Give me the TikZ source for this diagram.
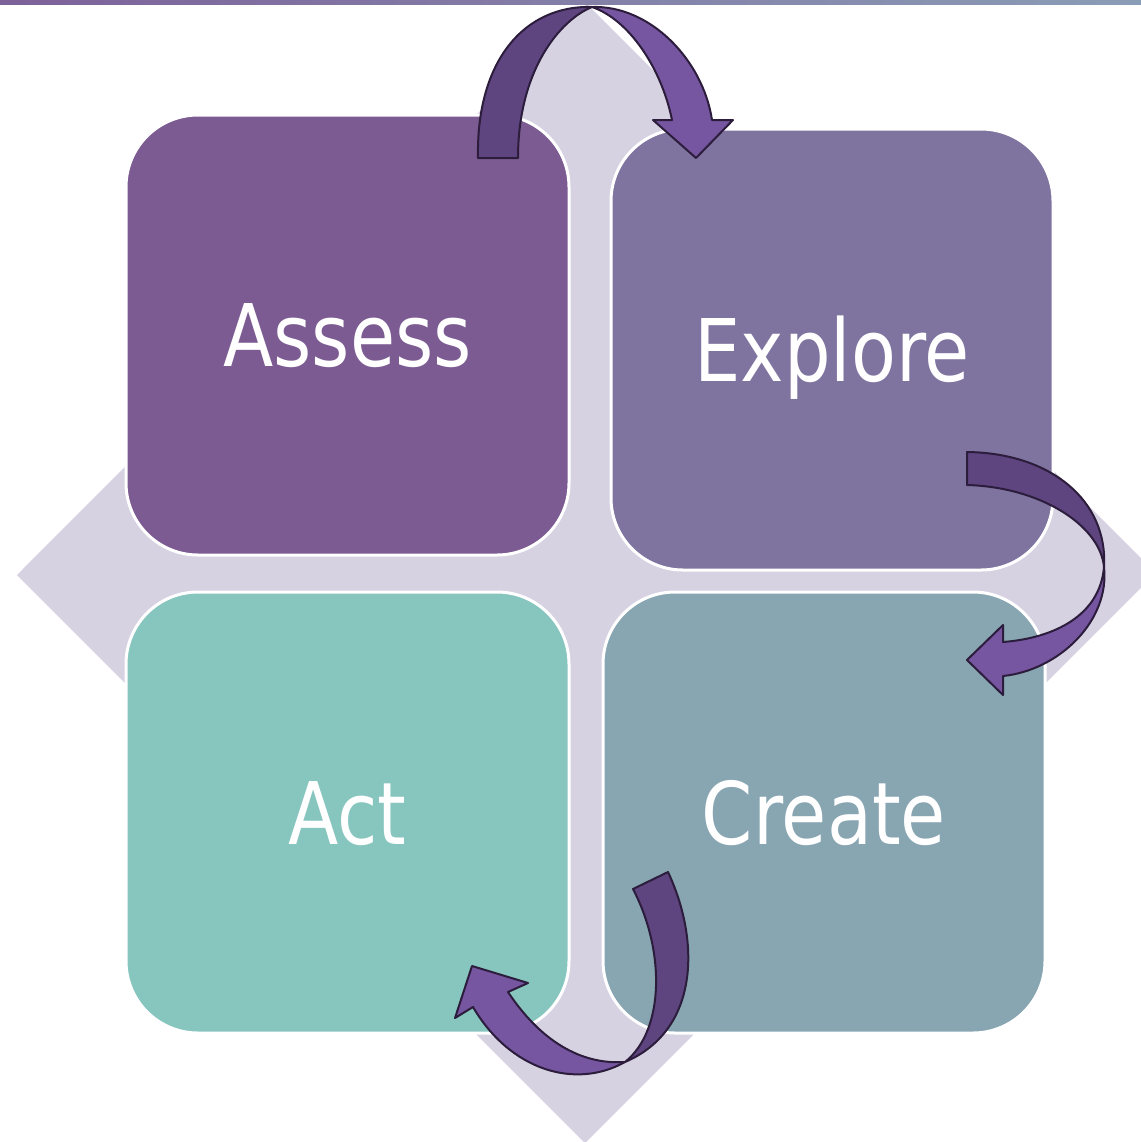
\documentclass[tikz,border=0pt]{standalone}
\usepackage{fontspec}
\setmainfont{DejaVu Sans}[FakeStretch=0.85]
\definecolor{cAssess}{HTML}{7B5B91}
\definecolor{cExplore}{HTML}{7F739F}
\definecolor{cAct}{HTML}{87C5BF}
\definecolor{cCreate}{HTML}{88A5B2}
\definecolor{cBack}{HTML}{D6D2E2}
\definecolor{cDark}{HTML}{5E4580}
\definecolor{cLight}{HTML}{7756A1}
\definecolor{cEdge}{HTML}{2C1D3C}
\definecolor{cBarL}{HTML}{7D6199}
\definecolor{cBarR}{HTML}{8A9DB6}
\tikzset{
  box/.style={draw=white, line width=1.5pt, rounded corners=36pt, inner sep=0pt,
    text=white, font=\fontsize{43.2}{50}\selectfont, text height=31.5pt, text depth=0pt},
  ribbon/.style={draw=cEdge, line width=1pt, line join=round},
}
\begin{document}
\begin{tikzpicture}[x=0.5pt,y=-0.5pt]
\useasboundingbox (0,0) rectangle (1141,1142);
\begin{scope}
\clip (0,0) rectangle (1141,1142);
\fill[cBack] (17,575) -- (587,4) -- (1156,573) -- (585,1143) -- cycle;
\end{scope}
\shade[left color=cBarL, right color=cBarR] (0,0) rectangle (1141,4);
% boxes
\node[box, fill=cAssess, minimum width=221.5pt, minimum height=220pt] (assess) at (347.5,335) {Assess};
\node[box, fill=cExplore, minimum width=221pt, minimum height=220.5pt] (explore) at (832,349.5) {Explore};
\node[box, fill=cAct, minimum width=221.5pt, minimum height=220.5pt] (act) at (347.5,812.5) {Act};
\node[box, fill=cCreate, minimum width=221pt, minimum height=220.5pt] (create) at (824,812.5) {Create};
% top arrow
\filldraw[ribbon, fill=cDark] (478,158) .. controls (476,60) and (525,5) .. (592,7)
  .. controls (560,20) and (518,70) .. (518,158) -- cycle;
\filldraw[ribbon, fill=cLight] (592,7) .. controls (650,5) and (703,60) .. (712,120)
  -- (733,120) -- (696,158) -- (653,120) -- (672,120)
  .. controls (662,70) and (630,20) .. (592,7) -- cycle;
% right arrow
\filldraw[ribbon, fill=cDark] (967,452) -- (967,485) .. controls (1040,487) and (1100,525) .. (1104,567)
  .. controls (1108,500) and (1050,453) .. (967,452) -- cycle;
\filldraw[ribbon, fill=cLight] (1104,567) .. controls (1110,620) and (1060,670) .. (1003,676)
  -- (1003,695) -- (967,660) -- (1003,625) -- (1003,642)
  .. controls (1055,638) and (1100,615) .. (1104,567) -- cycle;
% bottom arrow
\filldraw[ribbon, fill=cDark] (633,889) -- (668,872) .. controls (700,940) and (700,1030) .. (625,1062)
  .. controls (665,1030) and (665,950) .. (633,889) -- cycle;
\filldraw[ribbon, fill=cLight] (625,1062) .. controls (575,1090) and (510,1070) .. (473,1007)
  -- (455,1018) -- (472,966) -- (528,983) -- (508,992)
  .. controls (540,1040) and (580,1065) .. (625,1062) -- cycle;
\end{tikzpicture}
\end{document}
